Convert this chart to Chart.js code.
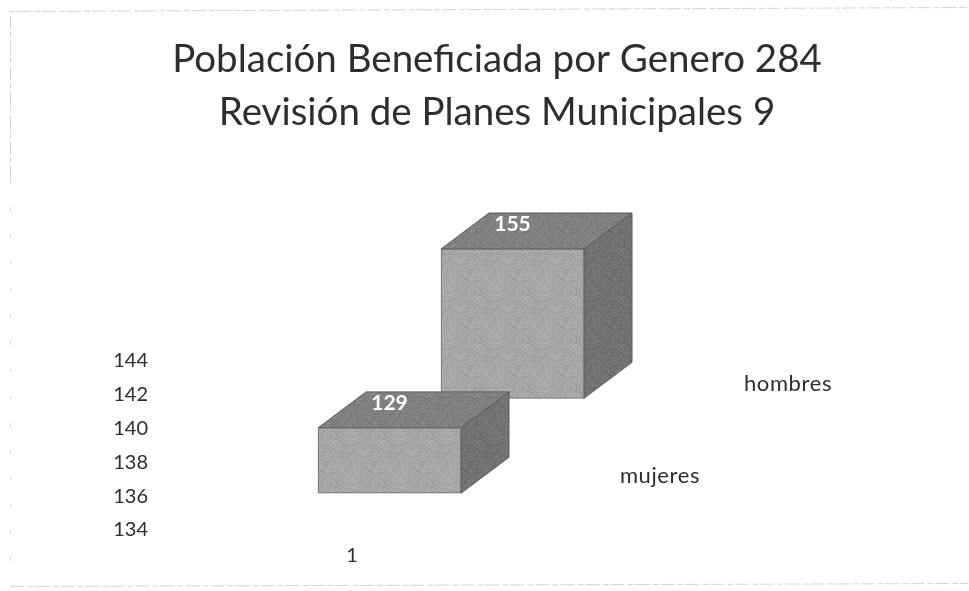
<!DOCTYPE html>
<html>
<head>
<meta charset="utf-8">
<title>Población Beneficiada por Genero</title>
<script src="https://cdn.jsdelivr.net/npm/chart.js@4/dist/chart.umd.min.js"></script>
<style>
  html, body { margin: 0; padding: 0; background: #fff; }
  canvas { display: block; }
</style>
</head>
<body>
<canvas id="chart" width="969" height="591"></canvas>
<script>
// Data
const titleLines = ['Población Beneficiada por Genero 284', 'Revisión de Planes Municipales 9'];
const categories = ['mujeres', 'hombres'];
const values = [129, 155];
const floors = [119.5, 133.3]; // where each box sits on the tilted 3D floor
const yTicks = [134, 136, 138, 140, 142, 144];
const xTicks = [1];

const fontName = 'Lato, "Open Sans", sans-serif';
const textColor = '#2e2e2e';

// Depth of the boxes, and where each series name sits relative to its box
const depthX = 48;
const depthY = -36;
const nameOffsets = [[270.5, -17.5], [275.5, -14]];

// Grainy fill so the faces look like the scanned print
function grain(base, spread) {
    const tile = document.createElement('canvas');
    tile.width = tile.height = 48;
    const c = tile.getContext('2d');
    for (let y = 0; y < 48; y++) {
        for (let x = 0; x < 48; x++) {
            const h = Math.sin(x * 12.9898 + y * 78.233) * 43758.5453;
            const v = Math.round(base + (h - Math.floor(h) - 0.5) * spread);
            c.fillStyle = `rgb(${v},${v},${v})`;
            c.fillRect(x, y, 1, 1);
        }
    }
    return c.createPattern(tile, 'repeat');
}

function face(ctx, points, color) {
    ctx.beginPath();
    points.forEach((p, i) => i ? ctx.lineTo(p[0], p[1]) : ctx.moveTo(p[0], p[1]));
    ctx.closePath();
    ctx.fillStyle = color;
    ctx.fill();
    ctx.strokeStyle = '#5c5c5c';
    ctx.lineWidth = 1;
    ctx.stroke();
}

const topFill = grain(128, 26);
const sideFill = grain(114, 26);

// Top and side faces go right before the front face of the same dataset
const boxFaces = {
    id: 'boxFaces',
    beforeDatasetDraw(chart, args) {
        const ctx = chart.ctx;
        const bar = args.meta.data[0];
        const half = bar.width / 2;
        const l = bar.x - half, r = bar.x + half, t = bar.y, b = bar.base;
        ctx.save();
        face(ctx, [[l, t], [l + depthX, t + depthY], [r + depthX, t + depthY], [r, t]], topFill);
        face(ctx, [[r, t], [r + depthX, t + depthY], [r + depthX, b + depthY], [r, b]], sideFill);
        ctx.restore();
    }
};

// Value labels on the top faces, series names in the floor, scanned page frame
const annotations = {
    id: 'annotations',
    beforeDraw(chart) {
        const ctx = chart.ctx;
        ctx.save();
        ctx.strokeStyle = '#d4d4d4';
        ctx.lineWidth = 1;
        ctx.setLineDash([14, 3, 6, 2]);
        ctx.beginPath();
        ctx.moveTo(10.5, 180);
        ctx.lineTo(10.5, 11.5);
        ctx.lineTo(968, 7.5);
        ctx.moveTo(10.5, 586.5);
        ctx.lineTo(968, 583.5);
        ctx.stroke();
        ctx.setLineDash([3, 24]);
        ctx.beginPath();
        ctx.moveTo(10.5, 180);
        ctx.lineTo(10.5, 586);
        ctx.stroke();
        ctx.restore();
    },
    afterDatasetsDraw(chart) {
        const ctx = chart.ctx;
        ctx.save();
        ctx.textAlign = 'center';
        ctx.textBaseline = 'middle';
        categories.forEach((name, i) => {
            const bar = chart.getDatasetMeta(i).data[0];
            ctx.font = 'bold 21px ' + fontName;
            ctx.fillStyle = '#ffffff';
            ctx.fillText(values[i], bar.x, bar.y - 25);
            ctx.font = '22px ' + fontName;
            ctx.letterSpacing = '0.6px';
            ctx.fillStyle = textColor;
            ctx.fillText(name, bar.x + nameOffsets[i][0], bar.base + nameOffsets[i][1]);
            ctx.letterSpacing = '0px';
        });
        ctx.restore();
    }
};

new Chart(document.getElementById('chart'), {
    type: 'bar',
    plugins: [boxFaces, annotations],
    data: {
        datasets: categories.map((name, i) => ({
            label: name,
            data: [{ x: i, y: [floors[i], values[i]] }],
            backgroundColor: grain(166, 26),
            borderColor: '#6a6a6a',
            borderWidth: 1,
            borderSkipped: false,
            barThickness: 143,
            grouped: false
        }))
    },
    options: {
        responsive: false,
        animation: false,
        layout: { padding: { top: 33, left: 100, right: 125, bottom: 21 } },
        plugins: {
            legend: { display: false },
            tooltip: { enabled: false },
            title: {
                display: true,
                fullSize: false,
                text: titleLines,
                color: textColor,
                font: { family: fontName, size: 38.5, weight: 'normal', lineHeight: 1.377 },
                padding: { top: 0, bottom: 61 }
            }
        },
        scales: {
            // bars
            x: { type: 'linear', display: false, offset: false, min: -1.947, max: 3.695 },
            y: { display: false, min: 114.16, max: 162.12 },
            // visible axes
            xTick: {
                type: 'linear',
                position: 'bottom',
                offset: false,
                min: 0,
                max: 3.436,
                grid: { display: false, offset: false, tickLength: 0 },
                border: { display: false },
                afterFit(scale) { scale.height = 40; },
                afterBuildTicks(scale) { scale.ticks = xTicks.map(v => ({ value: v })); },
                ticks: { color: textColor, font: { family: fontName, size: 20 }, padding: 14, maxRotation: 0 }
            },
            yTick: {
                type: 'linear',
                position: 'left',
                min: 134,
                max: 153.53,
                grid: { display: false, tickLength: 0 },
                border: { display: false },
                afterFit(scale) { scale.width = 50; },
                afterBuildTicks(scale) { scale.ticks = yTicks.map(v => ({ value: v })); },
                ticks: { color: textColor, font: { family: fontName, size: 20 }, padding: 2 }
            }
        }
    }
});
</script>
</body>
</html>
